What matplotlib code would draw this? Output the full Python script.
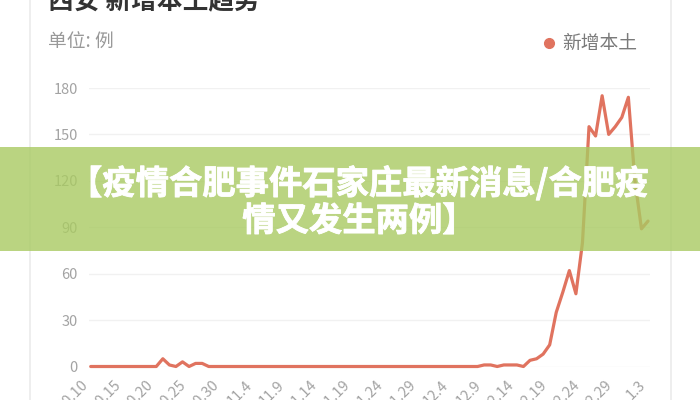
import matplotlib.pyplot as plt
import matplotlib.patheffects as pe
from matplotlib.lines import Line2D
from matplotlib.patches import Rectangle

plt.rcParams['font.family'] = ['Noto Sans CJK SC', 'DejaVu Sans']

# chart texts
title = '西安 新增本土趋势'
unit_label = '单位: 例'
series_name = '新增本土'
banner_text = '【疫情合肥事件石家庄最新消息/合肥疫\n情又发生两例】'

# x axis: one point per day 10.10 -> 1.3, label every 5th day
tick_labels = ['10.10', '10.15', '10.20', '10.25', '10.30', '11.4', '11.9',
               '11.14', '11.19', '11.24', '11.29', '12.4', '12.9', '12.14',
               '12.19', '12.24', '12.29', '1.3']
y_ticks = [0, 30, 60, 90, 120, 150, 180]

# new local cases
new_local = [
    0, 0, 0, 0, 0, 0, 0, 0, 0, 0,          # 10.10 - 10.19
    0, 5, 1, 0, 3, 0, 2, 2, 0, 0,          # 10.20 - 10.29
    0, 0, 0, 0, 0, 0, 0, 0, 0, 0,
    0, 0, 0, 0, 0, 0, 0, 0, 0, 0,
    0, 0, 0, 0, 0, 0, 0, 0, 0, 0,
    0, 0, 0, 0, 0, 0, 0, 0, 0, 0,
    1, 1, 0, 1, 1, 1, 0, 4, 5, 8,          # 12.9 - 12.18
    14, 35, 48, 62, 47, 80, 155, 149, 175, 150,
    155, 161, 174, 120, 89, 94,            # 12.29 - 1.3
]

LINE_COLOR = '#e0735f'
W, H = 700, 400

fig = plt.figure(figsize=(7, 4), dpi=100)
fig.patch.set_facecolor('white')

# card borders
for xp in (30, 671):
    fig.add_artist(Line2D([xp / W, xp / W], [0, 1], color='#ebebeb', lw=1.2,
                          transform=fig.transFigure))

ax = fig.add_axes([89 / W, 33.5 / H, 561 / W, 278.5 / H])
x = list(range(len(new_local)))
ax.plot(x, new_local, color=LINE_COLOR, lw=2.3, solid_joinstyle='round',
        solid_capstyle='round', clip_on=False, zorder=3)
ax.set_xlim(-0.26, len(new_local) - 1 + 0.3)
ax.set_ylim(0, 180)
ax.set_yticks(y_ticks)
ax.set_xticks(x[::5])
ax.set_xticklabels(tick_labels, rotation=45, ha='right', va='top')
ax.tick_params(axis='both', length=0, colors='#a3a3a3', labelsize=10.5)
ax.tick_params(axis='x', pad=8)
ax.tick_params(axis='y', pad=8)
ax.grid(axis='y', color='#f1f1f1', lw=1)
ax.set_axisbelow(True)
for s in ax.spines.values():
    s.set_visible(False)

# header
fig.text(48 / W, 1 - 1 / H, title, fontsize=18.5, fontweight='bold',
         color='#333333', va='center')
fig.text(48 / W, 1 - 42 / H, unit_label, fontsize=13.5, color='#999999',
         va='center')
fig.add_artist(Line2D([549 / W], [1 - 43 / H], marker='o', ms=7, lw=0,
                      color=LINE_COLOR, transform=fig.transFigure))
fig.text(562 / W, 1 - 43 / H, series_name, fontsize=13.5, color='#7a7a7a',
         va='center')

# green banner over the chart
fig.add_artist(Rectangle((0, 1 - 251 / H), 1, 104 / H, transform=fig.transFigure,
                         facecolor='#a9ca62', edgecolor='none', alpha=0.8,
                         zorder=5))
fig.text(0.513, 1 - 202 / H, banner_text, ha='center', va='center',
         color='white', fontsize=24, fontweight='bold', linespacing=1.15,
         zorder=6,
         path_effects=[pe.withStroke(linewidth=0.6, foreground='white')])

fig.savefig('out.png', dpi=100)
